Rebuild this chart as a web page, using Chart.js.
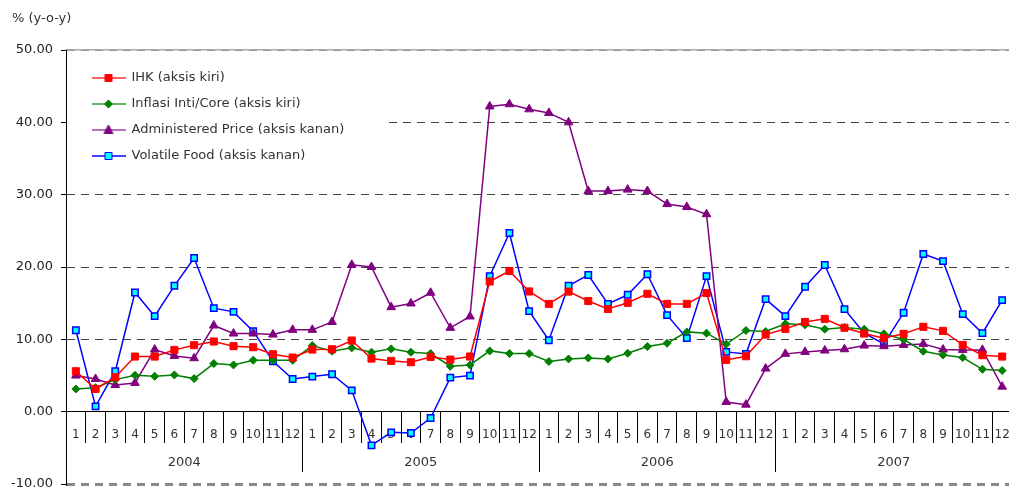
<!DOCTYPE html>
<html>
<head>
<meta charset="utf-8">
<script src="https://cdn.jsdelivr.net/npm/chart.js@4.4.0/dist/chart.umd.min.js"></script>
<style>
  html, body { margin: 0; padding: 0; background: #fff; overflow: hidden; }
  #wrap { position: relative; width: 1018px; height: 493px; }
  #inflasi { display: block; }
  #unit { position: absolute; left: 12px; top: 10px; font: 13px "DejaVu Sans", sans-serif; color: #333; }
</style>
</head>
<body>
<div id="wrap">
  <canvas id="inflasi" width="1018" height="493"></canvas>
  <div id="unit">% (y-o-y)</div>
</div>
<script>
// categories
const years = ['2004', '2005', '2006', '2007'];
const monthTicks = ['1', '2', '3', '4', '5', '6', '7', '8', '9', '10', '11', '12'];

// series values (% y-o-y)
const ihk = [5.59, 3.14, 4.76, 7.62, 7.62, 8.54, 9.19, 9.70, 9.05, 8.91, 7.94, 7.48,
  8.59, 8.63, 9.83, 7.34, 7.02, 6.83, 7.57, 7.20, 7.62, 18.0, 19.44, 16.62,
  14.9, 16.6, 15.3, 14.2, 15.05, 16.3, 14.9, 14.9, 16.4, 7.16, 7.66, 10.66,
  11.45, 12.4, 12.83, 11.6, 10.8, 10.16, 10.76, 11.73, 11.17, 9.23, 7.8, 7.62];
const core = [3.14, 3.32, 4.43, 5.03, 4.89, 5.08, 4.57, 6.65, 6.46, 7.11, 7.11, 7.11,
  9.14, 8.36, 8.82, 8.22, 8.68, 8.22, 8.03, 6.28, 6.46, 8.40, 8.03, 8.03,
  6.93, 7.29, 7.43, 7.29, 8.08, 9.0, 9.46, 11.03, 10.85, 9.33, 11.22, 11.08,
  12.14, 12.0, 11.4, 11.63, 11.4, 10.76, 9.97, 8.36, 7.85, 7.48, 5.86, 5.68];
const administered = [4.99, 4.52, 3.69, 3.97, 8.59, 7.71, 7.39, 11.91, 10.8, 10.8, 10.66, 11.31,
  11.31, 12.4, 20.3, 20.0, 14.45, 14.96, 16.44, 11.59, 13.16, 42.2, 42.5, 41.8,
  41.3, 40.0, 30.5, 30.5, 30.7, 30.5, 28.7, 28.3, 27.3, 1.34, 0.97, 5.96,
  7.99, 8.26, 8.45, 8.63, 9.14, 9.05, 9.23, 9.37, 8.59, 8.54, 8.54, 3.46];
const volatileFood = [11.26, 0.74, 5.59, 16.48, 13.2, 17.4, 21.24, 14.31, 13.8, 11.13, 6.97, 4.52,
  4.85, 5.17, 2.95, -4.66, -2.86, -2.95, -0.88, 4.71, 4.99, 18.74, 24.7, 13.9,
  9.88, 17.4, 18.9, 14.9, 16.16, 19.0, 13.34, 10.16, 18.74, 8.26, 7.99, 15.56,
  13.2, 17.27, 20.27, 14.17, 10.85, 9.37, 13.67, 21.8, 20.82, 13.48, 10.85, 15.42];

const seriesNames = ['IHK (aksis kiri)', 'Inflasi Inti/Core (aksis kiri)',
  'Administered Price (aksis kanan)', 'Volatile Food (aksis kanan)'];

const labels = years.flatMap(() => monthTicks);
const font = { family: '"DejaVu Sans", sans-serif', size: 13 };
const monthFont = { family: '"DejaVu Sans", sans-serif', size: 12 };

// little line+marker swatches for the legend
function swatch(line, fill, edge, shape) {
  const c = document.createElement('canvas');
  c.width = 34; c.height = 14;
  const g = c.getContext('2d');
  g.strokeStyle = line; g.lineWidth = 1.5;
  g.beginPath(); g.moveTo(0, 7); g.lineTo(34, 7); g.stroke();
  g.fillStyle = fill; g.strokeStyle = edge; g.lineWidth = 1;
  g.beginPath();
  if (shape === 'rect') g.rect(13.5, 3.5, 7, 7);
  if (shape === 'diamond') { g.moveTo(17, 3); g.lineTo(21, 7); g.lineTo(17, 11); g.lineTo(13, 7); g.closePath(); }
  if (shape === 'triangle') { g.moveTo(17, 2); g.lineTo(21.5, 10.5); g.lineTo(12.5, 10.5); g.closePath(); }
  g.fill(); g.stroke();
  return c;
}
const icons = [
  swatch('#ff3030', '#ff0000', '#ff0000', 'rect'),
  swatch('#30a030', '#008000', '#008000', 'diamond'),
  swatch('#a040a0', '#800080', '#800080', 'triangle'),
  swatch('#0000ff', '#00ffff', '#0000ff', 'rect')
];

// legend sits inside the plot on a white patch
const legendBox = {
  id: 'legendBox',
  afterLayout(chart) {
    const lg = chart.legend, ca = chart.chartArea;
    lg.left = ca.left + 13; lg.top = ca.top + 8.5;
    lg.right = lg.left + lg.width; lg.bottom = lg.top + lg.height;
  },
  beforeDatasetsDraw(chart) {
    const lg = chart.legend, ca = chart.chartArea, ctx = chart.ctx;
    const hb = lg.legendHitBoxes;
    if (!hb || !hb.length) return;
    const right = Math.max(...hb.map(b => b.left + b.width)) + 44;
    const top = hb[0].top - 12;
    const bottom = hb[hb.length - 1].top + hb[hb.length - 1].height + 16;
    ctx.save();
    ctx.fillStyle = '#fff';
    ctx.fillRect(ca.left + 1, top, right - ca.left - 1, bottom - top);
    ctx.restore();
    lg.draw();
  }
};

const common = { xAxisID: 'x', yAxisID: 'y' };
const flatX = s => { s.height = 0; s.paddingLeft = 0; s.paddingRight = 0; };

new Chart(document.getElementById('inflasi'), {
  type: 'line',
  data: {
    labels: labels,
    datasets: [
      { ...common, label: seriesNames[0], data: ihk, borderColor: '#ff0000', backgroundColor: '#ff0000',
        pointStyle: 'rect', pointRadius: 5, pointBorderWidth: 1 },
      { ...common, label: seriesNames[1], data: core, borderColor: '#008000', backgroundColor: '#008000',
        pointStyle: 'rectRot', pointRadius: 4, pointBorderWidth: 1 },
      { ...common, label: seriesNames[2], data: administered, borderColor: '#800080', backgroundColor: '#800080',
        pointStyle: 'triangle', pointRadius: 5, pointBorderWidth: 1 },
      { ...common, label: seriesNames[3], data: volatileFood, borderColor: '#0000ff', backgroundColor: '#00ffff',
        pointBorderColor: '#0000ff', pointStyle: 'rect', pointRadius: 4.5, pointBorderWidth: 1.5 }
    ]
  },
  options: {
    responsive: false,
    animation: false,
    devicePixelRatio: 1,
    elements: { line: { borderWidth: 1.5, tension: 0 } },
    layout: { padding: { top: 50, bottom: 9, left: 0, right: 3 } },
    plugins: {
      legend: {
        position: 'chartArea',
        align: 'start',
        labels: {
          usePointStyle: true,
          pointStyleWidth: 33,
          padding: 13,
          color: '#333',
          font: font,
          generateLabels: chart => Chart.defaults.plugins.legend.labels.generateLabels(chart)
            .map((item, i) => Object.assign(item, { pointStyle: icons[i] }))
        }
      },
      tooltip: { enabled: false }
    },
    scales: {
      x: {
        type: 'category',
        axis: 'x',
        position: { y: 0 },
        offset: true,
        afterFit: flatX,
        grid: { offset: true, drawOnChartArea: false, tickLength: 31, color: '#000', tickColor: '#000' },
        border: { color: '#000', width: 1 },
        ticks: { padding: -15, color: '#333', font: monthFont, maxRotation: 0, autoSkip: false }
      },
      xYear: {
        type: 'category',
        axis: 'x',
        labels: years,
        position: { y: 0 },
        offset: true,
        afterFit: flatX,
        grid: { offset: true, drawOnChartArea: false, tickLength: 60, color: '#000', tickColor: '#000' },
        border: { display: false },
        ticks: { padding: -17, color: '#333', font: font, maxRotation: 0, autoSkip: false }
      },
      xTop: {
        type: 'category',
        axis: 'x',
        position: 'top',
        afterFit: flatX,
        grid: { display: false },
        ticks: { display: false },
        border: { color: '#aaa', width: 1.5 }
      },
      y: {
        axis: 'y',
        min: -10,
        max: 50,
        afterFit: s => { s.width = 66; s.paddingTop = 0; s.paddingBottom = 0; },
        border: { color: '#000', width: 1, dash: [8, 6] },
        grid: {
          color: c => (c.tick && (c.tick.value === 50 || c.tick.value === -10)) ? '#888' : '#444',
          lineWidth: c => (c.tick && c.tick.value === -10) ? 3 : 1,
          tickLength: 5,
          tickColor: '#000',
          tickWidth: 1,
          tickBorderDash: []
        },
        ticks: { stepSize: 10, padding: 8, color: '#222', font: font, callback: v => v.toFixed(2) }
      }
    }
  },
  plugins: [legendBox]
});
</script>
</body>
</html>
